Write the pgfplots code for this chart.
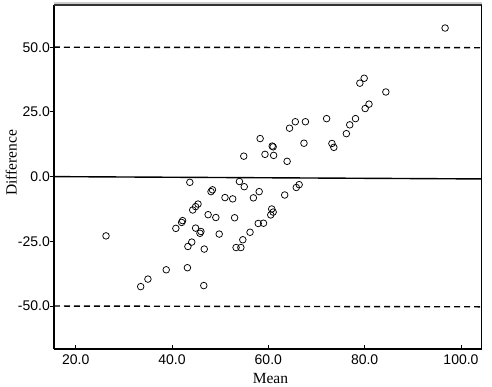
\documentclass[border=0pt]{standalone}
\usepackage{fontspec}
\setmainfont{Liberation Serif}
\newfontfamily\arial{Liberation Sans}
\usepackage{pgfplots}
\pgfplotsset{compat=1.18}
\pgfplotstableread{
x y
96.7 57.4
79.0 36.1
79.9 38.0
84.4 32.7
80.1 26.3
80.9 28.0
78.1 22.4
76.9 20.0
76.2 16.6
72.1 22.4
73.2 12.8
73.6 11.3
67.4 12.9
67.7 21.2
65.6 21.2
64.4 18.7
63.9 5.9
60.8 11.8
61.0 11.5
58.3 14.7
59.3 8.6
61.1 8.2
54.9 7.9
54.0 -1.9
55.0 -3.9
51.0 -8.1
52.6 -8.6
58.1 -5.8
56.9 -8.2
63.4 -7.1
65.8 -4.2
66.4 -3.1
43.7 -2.2
48.1 -5.8
48.4 -5.1
45.4 -10.6
44.9 -11.6
44.3 -12.9
47.5 -14.7
49.1 -15.8
53.0 -15.9
42.2 -17.0
42.0 -17.7
40.8 -20.0
44.9 -19.9
46.0 -21.2
45.8 -21.9
49.8 -22.2
26.3 -22.9
44.1 -25.3
43.3 -27.0
46.7 -28.0
53.3 -27.4
54.3 -27.4
54.7 -24.4
56.2 -21.5
57.9 -18.1
59.0 -18.0
60.7 -12.5
61.0 -13.7
60.5 -14.8
38.8 -36.0
43.2 -35.2
35.0 -39.6
33.5 -42.5
46.6 -42.1
}\pts
\begin{document}
\begin{tikzpicture}
\path[use as bounding box] (-54pt,-38pt) rectangle (438pt,349pt);
\begin{axis}[
  at={(0,0)}, anchor=south west,
  scale only axis, width=427.7pt, height=344pt,
  xmin=15.5, xmax=104.3, ymin=-66.6, ymax=66.3,
  axis x line*=bottom, axis y line*=left,
  axis line style={line width=1.4pt, black},
  xtick={20,40,60,80,100}, ytick={-50,-25,0,25,50},
  xtick align=inside, ytick align=outside,
  major tick length=4pt,
  tick style={black, line width=0.9pt},
  /pgf/number format/assume math mode=true,
  /pgf/number format/fixed, /pgf/number format/fixed zerofill,
  /pgf/number format/precision=1,
  ticklabel style={font=\fontsize{14}{16}\arial, inner sep=0pt},
  xticklabel style={anchor=north, yshift=-6pt},
  yticklabel style={anchor=east},
  xlabel={Mean}, ylabel={Difference},
  label style={font=\fontsize{15.5}{18}\selectfont},
  xlabel style={at={(axis description cs:0.506,-0.1017)}, anchor=base},
  ylabel style={at={(axis description cs:-0.0872,0.541)}, anchor=base},
  clip=false,
]
\addplot[black, line width=1.4pt] coordinates {(15.5,0) (104.3,-0.9)};
\addplot[black, line width=1.4pt, dash pattern=on 6pt off 4pt] coordinates {(15.5,50) (104.3,49.8)};
\addplot[black, line width=1.4pt, dash pattern=on 6pt off 4pt] coordinates {(15.5,-50) (104.3,-50.3)};
\addplot[only marks, mark=o, mark size=3.3pt, mark options={line width=0.75pt, black}] table[x=x,y=y] {\pts};
\draw[black!20, line width=2pt] ([yshift=2.2pt]rel axis cs:0,1) -- ([yshift=2.2pt]rel axis cs:1,1);
\draw[black!80, line width=1.4pt] (rel axis cs:0,1) -- (rel axis cs:1,1);
\draw[black, line width=0.8pt] (rel axis cs:1,0) -- (rel axis cs:1,1);
\end{axis}
\end{tikzpicture}
\end{document}
